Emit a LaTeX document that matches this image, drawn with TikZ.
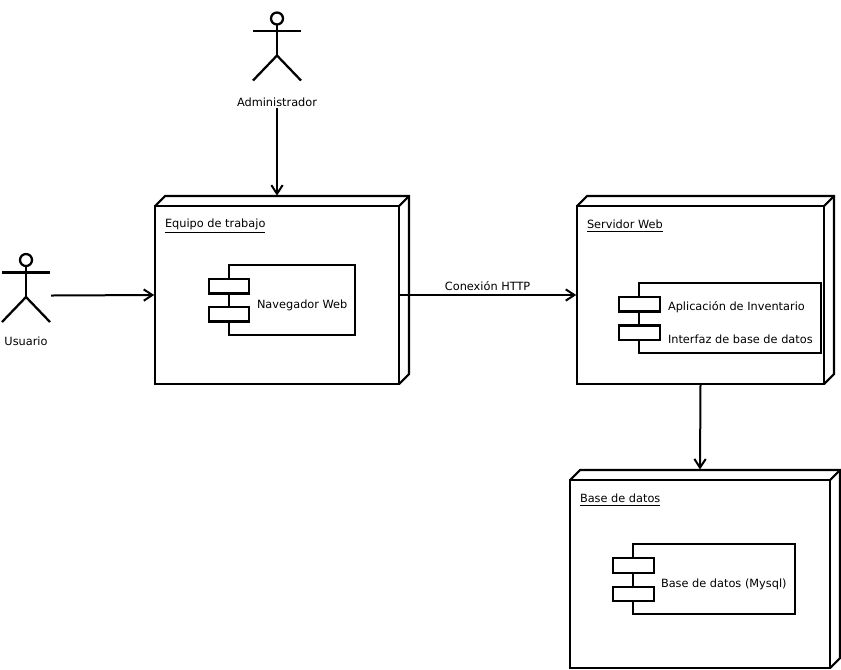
\documentclass[tikz,border=0pt]{standalone}
\usepackage{fontspec}
\setmainfont{DejaVu Sans}
\usetikzlibrary{arrows.meta}
\tikzset{
  x=0.75pt,y=-0.75pt,
  umlline/.style={draw=black,line width=1.7pt,line join=miter},
  frontbox/.style={umlline,rectangle,fill=white,anchor=north west,inner sep=0pt,outer sep=0pt},
  depth/.style={umlline,line width=1.6pt},
  txt/.style={inner sep=0pt,outer sep=0pt,font=\fontsize{8.5pt}{10pt}\selectfont,text=black},
  conn/.style={line width=1.5pt,draw=black,-{Straight Barb[length=6.5pt,width=8.5pt,line width=1.5pt]}},
  limb/.style={line width=1.7pt,draw=black}
}
% name, x1, y1, x2, y2, title
\newcommand{\umlnode}[6]{%
  \draw[depth] (#2,#3) -- ++(10,-10) -- (#4+10,#3-10) -- (#4+10,#5-10) -- (#4,#5);
  \draw[depth] (#4,#3) -- (#4+10,#3-10);
  \node[frontbox,minimum width={(#4-#2)*0.75pt},minimum height={(#5-#3)*0.75pt}] (#1) at (#2,#3) {};
  \node[txt,anchor=west] (#1title) at (#2+10,#3+20) {\underline{#6}};
}
% name, x1, y1, x2, y2, port y1, port y2
\newcommand{\umlcomp}[7]{%
  \node[frontbox,minimum width={(#4-#2)*0.75pt},minimum height={(#5-#3)*0.75pt}] (#1) at (#2,#3) {};
  \node[frontbox,minimum width={40.4*0.75pt},minimum height={14.6*0.75pt}] (#1p1) at (#2-20,#6) {};
  \node[frontbox,minimum width={40.4*0.75pt},minimum height={14.6*0.75pt}] (#1p2) at (#2-20,#7) {};
}
% name, cx, top of head
\newcommand{\umlactor}[3]{%
  \node[circle,draw=black,line width=1.7pt,fill=white,minimum size=9pt,inner sep=0pt,outer sep=0pt] (#1) at (#2,#3+6) {};
  \draw[limb] (#1.south) -- (#2,#3+43);
  \draw[limb] (#2-24,#3+18.5) -- (#2+24,#3+18.5);
  \draw[limb] (#2-24,#3+68) -- (#2,#3+43) -- (#2+24,#3+68);
}
\begin{document}
\begin{tikzpicture}
\useasboundingbox[fill=white] (0,0) rectangle (841,669);

\umlnode{equipo}{155}{206}{399}{384}{Equipo de trabajo}
\umlnode{servidor}{577}{206}{824}{384}{Servidor Web}
\umlnode{base}{570}{480}{830}{668}{Base de datos}

\umlcomp{nav}{228.7}{265}{355}{335}{279}{307}
\umlcomp{app}{639.3}{283.3}{820.7}{353.3}{297}{325.4}
\umlcomp{bd}{633.3}{544.3}{794.7}{614.3}{558.3}{586.7}

\node[txt,anchor=west] (navt) at (257,305) {Navegador Web};
\node[txt,anchor=west] (appt) at (668,307) {Aplicación de Inventario};
\node[txt,anchor=west] (intt) at (668,339) {Interfaz de base de datos};
\node[txt,anchor=west] (bdt) at (661,584.5) {Base de datos (Mysql)};

\umlactor{admin}{277}{12.5}
\umlactor{usuario}{26}{254}
\node[txt] (adminl) at (277,102) {Administrador};
\node[txt] (usuariol) at (26,341) {Usuario};

\coordinate (usuarioend) at (51,295.5);
\draw[conn] ([yshift=-1.5pt]adminl.south) -- ([yshift=7.8pt]equipo.north);
\draw[conn] (usuarioend) -- ([xshift=-0.6pt]equipo.west);
\draw[conn] (equipo.east) -- node[txt,above=3pt] (http) {Conexión HTTP} ([xshift=-0.6pt]servidor.west);
\draw[conn] (servidor.south) -- ([yshift=7.9pt]base.north);
\end{tikzpicture}
\end{document}
